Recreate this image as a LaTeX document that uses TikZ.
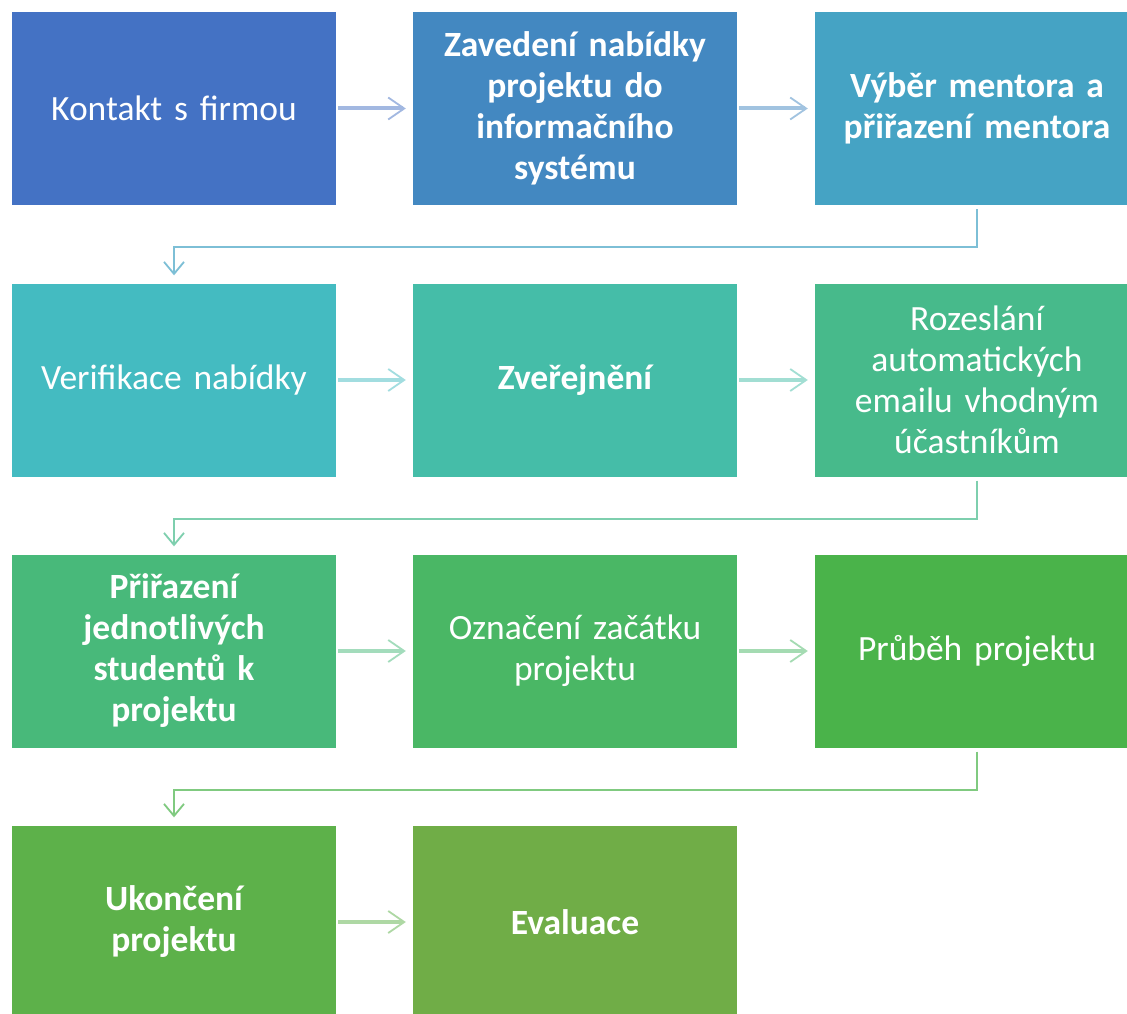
\documentclass[tikz,border=0pt]{standalone}
\usepackage{fontspec}
\setmainfont{Carlito}
\usetikzlibrary{arrows.meta}
\definecolor{c1}{HTML}{4472C4}
\definecolor{c2}{HTML}{4388C1}
\definecolor{c3}{HTML}{45A3C4}
\definecolor{c4}{HTML}{44BBC1}
\definecolor{c5}{HTML}{45BDA8}
\definecolor{c6}{HTML}{47BA8B}
\definecolor{c7}{HTML}{48B97A}
\definecolor{c8}{HTML}{4AB765}
\definecolor{c9}{HTML}{4AB34A}
\definecolor{c10}{HTML}{5DB14A}
\definecolor{c11}{HTML}{70AD47}
\tikzset{
  box/.style={fill=#1, text=white, minimum width=324pt, minimum height=193pt,
    inner sep=0pt, align=center, text width=316pt,
    font=\fontsize{35.5}{41}\selectfont},
  harrow/.style={line width=4pt, draw=#1!50!white, shorten <=2pt, shorten >=7pt,
    -{Straight Barb[length=16pt,width=22pt,line width=1.8pt]}},
  varrow/.style={line width=2pt, draw=#1!70!white, shorten <=4pt, shorten >=8pt,
    -{Straight Barb[length=12pt,width=20pt,line width=1.8pt]}}
}
\begin{document}
\begin{tikzpicture}[x=1pt,y=-1pt]
  \useasboundingbox[fill=white] (0,0) rectangle (1127,1014);
  % first row
  \node[box=c1] (kontakt) at (174,108.5) {Kontakt s firmou};
  \node[box=c2] (zavedeni) at (575,108.5) {\bfseries Zavedení nabídky\\ \bfseries projektu do\\ \bfseries informačního\\ \bfseries systému};
  \node[box=c3] (vyber) at (977,108.5) {\bfseries Výběr mentora a\\ \bfseries přiřazení mentora};
  % second row
  \node[box=c4] (verif) at (174,380) {Verifikace nabídky};
  \node[box=c5] (zverej) at (575,380) {\bfseries Zveřejnění};
  \node[box=c6] (rozesl) at (977,380) {Rozeslání\\ automatických\\ emailu vhodným\\ účastníkům};
  % third row
  \node[box=c7] (prir) at (174,651) {\bfseries Přiřazení\\ \bfseries jednotlivých\\ \bfseries studentů k\\ \bfseries projektu};
  \node[box=c8] (oznac) at (575,651) {Označení začátku\\ projektu};
  \node[box=c9] (prubeh) at (977,651) {Průběh projektu};
  % fourth row
  \node[box=c10] (ukonc) at (174,922) {\bfseries Ukončení\\ \bfseries projektu};
  \node[box=c11] (eval) at (575,922) {\bfseries Evaluace};

  \draw[harrow=c1] (kontakt) -- (zavedeni);
  \draw[harrow=c2] (zavedeni) -- (vyber);
  \draw[varrow=c3] (vyber.south) -- ++(0,42) -| (verif.north);
  \draw[harrow=c4] (verif) -- (zverej);
  \draw[harrow=c5] (zverej) -- (rozesl);
  \draw[varrow=c6] (rozesl.south) -- ++(0,42) -| (prir.north);
  \draw[harrow=c7] (prir) -- (oznac);
  \draw[harrow=c8] (oznac) -- (prubeh);
  \draw[varrow=c9] (prubeh.south) -- ++(0,42) -| (ukonc.north);
  \draw[harrow=c10] (ukonc) -- (eval);
\end{tikzpicture}
\end{document}
